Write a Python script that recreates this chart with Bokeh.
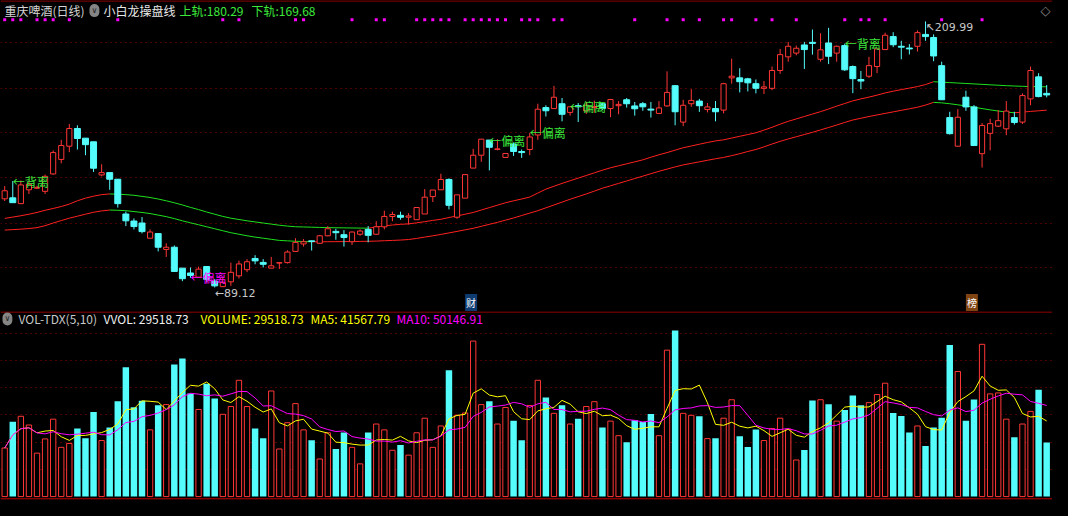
import numpy as np
import pandas as pd
from bokeh.plotting import figure
from bokeh.layouts import column
from bokeh.models import Range1d, Label, FixedTicker, Span, Grid, ColumnDataSource
from bokeh.embed import file_html
from bokeh.resources import INLINE

# ---------------- data ----------------
stock_name = "重庆啤酒(日线)"
indicator_name = "小白龙操盘线"
vol_indicator = "VOL-TDX(5,10)"

opens = [129.4, 129.85, 127.2, 133.5, 134.2, 132.8, 140.7, 147.3, 153.3, 161.35,
         156.95, 155.3, 140.25, 141.3, 138.3, 122.5, 119.3, 118.4, 111.5, 113.6,
         106.4, 107.4, 97.9, 95.7, 93.8, 98.65, 92.0, 89.5, 91.7, 94.4,
         97.2, 102.3, 100.5, 97.9, 100.2, 100.4, 105.5, 108.9, 110.3, 109.2,
         112.6, 114.6, 113.1, 109.9, 113.3, 115.5, 113.3, 116.65, 121.35, 121.9,
         121.05, 119.9, 122.5, 130.4, 133.5, 138.2, 121.05, 129.7, 143.35, 149.2,
         156.1, 151.85, 148.2, 154.3, 150.9, 151.8, 158.4, 170.85, 170.4, 172.6,
         168.65, 171.7, 169.4, 170.9, 172.6, 170.4, 171.7, 174.4, 171.6, 172.6,
         170.15, 168.2, 171.6, 180.8, 164.25, 172.6, 173.8, 169.95, 170.4, 169.7,
         184.35, 184.35, 183.9, 181.7, 179.6, 179.6, 187.7, 193.9, 195.6, 199.3,
         200.5, 192.8, 200.2, 195.6, 199.0, 189.5, 183.6, 185.1, 189.5, 197.2,
         203.1, 198.7, 197.9, 198.7, 204.1, 202.7, 189.9, 166.3, 153.3, 175.55,
         171.15, 149.9, 159.15, 162.4, 161.2, 166.3, 164.25, 174.8, 184.8, 177.3]

highs = [135.2, 137.45, 137.75, 137.45, 135.3, 140.4, 151.4, 156.2, 163.4, 162.8,
         156.95, 155.3, 145.1, 141.3, 138.3, 123.6, 120.5, 121.1, 115.5, 113.6,
         109.2, 108.2, 97.9, 98.2, 98.6, 98.65, 92.9, 93.5, 100.4, 101.3,
         102.0, 103.8, 102.0, 103.0, 100.5, 106.0, 111.5, 111.1, 110.4, 113.0,
         117.0, 115.8, 115.2, 114.5, 115.5, 117.0, 119.2, 124.0, 123.55, 123.55,
         122.9, 125.6, 133.8, 133.4, 140.8, 138.7, 131.2, 140.4, 152.1, 156.5,
         156.1, 156.5, 150.0, 155.0, 151.8, 159.4, 172.6, 171.9, 180.7, 175.2,
         171.2, 172.9, 173.4, 174.0, 173.0, 174.8, 173.8, 175.2, 173.4, 173.4,
         173.4, 173.8, 187.3, 181.0, 174.4, 179.2, 174.8, 172.9, 173.8, 182.1,
         193.1, 188.7, 184.35, 183.6, 182.9, 189.5, 197.5, 200.7, 199.0, 200.7,
         206.3, 204.6, 207.1, 199.0, 199.9, 190.0, 187.5, 193.9, 197.5, 204.9,
         205.1, 201.2, 199.7, 205.9, 209.99, 204.1, 191.7, 168.95, 170.15, 178.5,
         172.0, 163.8, 165.75, 169.7, 173.8, 168.95, 177.3, 189.5, 186.5, 181.1]

lows = [128.4, 127.6, 127.2, 131.6, 133.8, 131.6, 140.4, 145.5, 150.6, 151.8,
        149.2, 141.6, 139.6, 133.5, 125.4, 117.0, 115.5, 113.7, 111.5, 105.5,
        103.0, 96.4, 92.0, 93.5, 93.8, 91.5, 89.12, 89.4, 89.85, 93.2,
        96.1, 99.65, 98.2, 97.9, 97.5, 100.0, 105.5, 107.7, 105.9, 108.9,
        112.4, 110.8, 107.7, 108.4, 112.6, 109.6, 113.0, 115.5, 119.2, 119.9,
        117.7, 119.9, 122.5, 127.95, 133.5, 124.6, 120.3, 129.7, 143.35, 146.2,
        142.3, 151.4, 148.2, 148.9, 148.0, 149.2, 156.2, 166.8, 170.4, 164.6,
        167.2, 164.3, 167.9, 168.5, 169.8, 166.5, 167.8, 170.85, 167.2, 169.4,
        166.3, 167.9, 171.2, 162.8, 162.4, 171.2, 168.9, 168.65, 164.6, 168.2,
        181.7, 177.75, 178.2, 177.3, 177.0, 178.75, 186.2, 191.7, 194.6, 188.4,
        194.9, 191.7, 190.6, 191.7, 187.5, 177.4, 179.2, 184.35, 186.5, 197.2,
        198.3, 192.8, 195.0, 196.3, 201.2, 191.9, 174.4, 158.6, 153.3, 169.4,
        153.6, 143.6, 151.4, 162.0, 158.3, 163.1, 163.4, 171.9, 175.5, 175.5]

closes = [133.05, 127.65, 135.7, 136.0, 134.6, 139.6, 150.4, 153.6, 161.35, 156.8,
          154.0, 143.3, 141.3, 138.3, 127.2, 119.4, 116.8, 114.5, 114.3, 107.4,
          107.4, 96.4, 93.1, 94.55, 97.45, 92.8, 89.85, 91.3, 96.0, 99.8,
          100.8, 101.2, 99.65, 98.95, 100.4, 105.2, 109.6, 109.9, 110.0, 112.6,
          115.8, 114.0, 111.8, 114.3, 114.75, 112.8, 116.7, 121.4, 122.25, 121.0,
          121.6, 125.45, 130.15, 133.4, 138.2, 126.45, 131.2, 140.4, 149.2, 156.5,
          152.8, 152.1, 150.0, 150.9, 150.4, 157.5, 170.1, 169.4, 175.55, 167.8,
          171.2, 171.2, 171.9, 171.3, 170.4, 174.5, 172.3, 172.6, 170.3, 171.2,
          169.7, 170.7, 177.75, 168.95, 171.9, 174.1, 171.7, 171.15, 168.95, 181.7,
          185.1, 182.6, 182.1, 179.6, 180.25, 187.7, 194.9, 198.7, 197.8, 197.2,
          200.0, 197.1, 194.15, 198.7, 188.0, 184.0, 182.9, 189.9, 197.5, 203.7,
          199.4, 198.3, 197.5, 204.9, 203.1, 194.3, 174.4, 159.0, 166.45, 171.15,
          153.6, 162.7, 163.55, 164.9, 169.25, 164.1, 176.3, 187.7, 175.85, 176.6]

volumes = [26500, 40800, 43800, 39050, 23700, 31450, 42230, 26860, 28980, 37110,
           31800, 46120, 30570, 37640, 51950, 70500, 48770, 52300, 36400, 49830,
           50180, 72090, 75270, 56190, 47530, 61490, 53540, 44880, 49120, 63440,
           49120, 37110, 31810, 57600, 25970, 40290, 50710, 36400, 30750, 20500,
           34810, 25970, 34990, 26860, 17850, 34990, 39580, 36400, 25270, 28100,
           22620, 34810, 42760, 26860, 38520, 68910, 44350, 45590, 84820, 50180,
           51950, 39580, 48590, 41350, 30750, 49650, 63440, 54070, 45410, 49830,
           39580, 42410, 49120, 51770, 37640, 41170, 33220, 29690, 41700, 40640,
           45060, 33220, 79870, 90650, 45410, 44350, 43820, 31630, 31810, 42760,
           52830, 32870, 27040, 36580, 30570, 37110, 42760, 36750, 19970, 25440,
           52480, 52830, 50360, 41170, 47180, 55130, 49830, 51240, 55660, 61840,
           45590, 44000, 34990, 38520, 27570, 37640, 42940, 82700, 68210, 41350,
           53010, 83050, 56010, 56540, 42230, 32340, 39580, 46470, 58310, 29518.73]

upper_band = [120.5, 121.1, 121.7, 122.4, 123.2, 124.2, 125.0, 125.9, 127.0, 128.5,
              129.7, 130.6, 131.3, 131.6, 131.5, 131.3, 131.0, 130.5, 130.0, 129.3,
              128.5, 127.6, 126.6, 125.5, 124.5, 123.4, 122.4, 121.4, 120.6, 120.0,
              119.4, 118.9, 118.4, 117.9, 117.4, 117.0, 116.7, 116.6, 116.5, 116.4,
              116.3, 116.25, 116.2, 116.15, 116.1, 116.05, 116.6, 117.1, 117.5, 117.8,
              118.0, 118.5, 119.0, 119.6, 120.1, 120.9, 121.6, 122.4, 123.2, 124.3,
              125.4, 126.5, 127.6, 128.5, 129.3, 130.2, 132.0, 133.8, 135.1, 136.4,
              137.6, 138.8, 140.0, 141.2, 142.4, 143.5, 144.4, 145.3, 146.2, 147.1,
              148.3, 149.4, 150.4, 151.5, 152.6, 153.4, 154.2, 155.0, 155.7, 156.2,
              157.0, 157.8, 158.6, 159.4, 160.6, 161.9, 163.3, 164.6, 165.7, 166.8,
              167.9, 169.0, 170.2, 171.5, 172.7, 173.9, 174.8, 175.6, 176.5, 177.5,
              178.3, 179.0, 179.7, 180.4, 181.3, 182.6, 182.4, 182.2, 182.0, 181.8,
              181.6, 181.4, 181.2, 181.0, 180.8, 180.65, 180.5, 180.4, 180.35, 180.29]

lower_band = [115.2, 115.4, 115.6, 115.9, 116.3, 117.2, 118.4, 119.5, 120.6, 121.5,
              122.4, 123.3, 123.9, 124.3, 124.2, 124.0, 123.6, 123.2, 122.7, 122.0,
              121.3, 120.4, 119.4, 118.5, 117.6, 116.7, 115.8, 114.9, 114.0, 113.3,
              112.6, 112.0, 111.5, 111.0, 110.5, 110.3, 110.1, 110.0, 109.85, 109.87,
              109.9, 109.93, 109.96, 110.0, 110.05, 110.1, 110.2, 110.35, 110.5, 110.65,
              110.9, 111.4, 112.0, 112.6, 113.2, 113.9, 114.6, 115.3, 116.0, 116.9,
              117.8, 118.7, 119.7, 120.7, 121.8, 122.9, 124.0, 125.3, 126.6, 127.9,
              129.2, 130.4, 131.6, 132.9, 134.2, 135.3, 136.4, 137.5, 138.6, 139.7,
              140.8, 141.9, 142.9, 143.9, 144.8, 145.5, 146.2, 146.9, 147.6, 148.2,
              149.0, 149.9, 150.9, 151.8, 153.0, 154.3, 155.5, 156.6, 157.6, 158.6,
              159.6, 160.7, 161.8, 162.9, 164.1, 165.2, 166.0, 166.8, 167.5, 168.2,
              168.9, 169.6, 170.3, 171.0, 172.0, 173.2, 173.0, 172.6, 172.1, 171.6,
              171.0, 170.4, 169.8, 169.3, 168.8, 168.5, 168.8, 169.1, 169.4, 169.68]

signal_dots = [0, 1, 2, 4, 5, 6, 8, 14, 27, 29, 36, 37, 43, 46, 47, 51, 52, 53, 54, 55,
               57, 58, 59, 60, 61, 62, 64, 65, 66, 68, 69, 78, 82, 84, 86, 89, 90, 93,
               95, 98, 104, 106, 107, 109, 116, 121]

signal_idx = [1, 23, 60, 65, 70, 104]
signal_text = ["背离", "偏离", "偏离", "偏离", "偏离", "背离"]
signal_side = ["high", "low", "high", "high", "high", "high"]

event_idx = [57, 119]
event_text = ["财", "榜"]

upper_last = 180.29
lower_last = 169.68
vvol_last = 29518.73
ma5_last = 41567.79
ma10_last = 50146.91

price_grid = [98.2, 118.4, 139.1, 159.3, 179.5, 200.2]
volume_grid = [14840, 29680, 44520, 59360, 74200, 89040]

n = len(closes)
assert all(len(a) == n for a in (opens, highs, lows, volumes, upper_band, lower_band))

# ---------------- styling / layout ----------------
W = 1052
H_PRICE = 311
H_VOL = 189
FONT = "Noto Sans CJK SC"
RED = "#ff3636"
CYAN = "#54fcfc"
BAND_RED = "#ff2020"
BAND_GREEN = "#1ee01e"
TXT_GREEN = "#3ce83c"
MAGENTA = "#ff00ff"
YELLOW = "#ffff00"
GRID_RED = "#9a0000"
FRAME_RED = "#c00000"

PRICE_RANGE = (78.2, 219.5)
VOL_RANGE = (-2127, 100954)
HEADER_Y = 214.9
DOT_Y = 210.8
EVENT_Y = 82.3
VHEADER_Y = 96900

x = np.arange(n)
o = np.array(opens); h = np.array(highs); l = np.array(lows); c = np.array(closes)
v = np.array(volumes, dtype=float)
up = c >= o

ma5 = pd.Series(v).rolling(5, min_periods=1).mean().values
ma10 = pd.Series(v).rolling(10, min_periods=1).mean().values

xr = Range1d(-0.52, n - 0.28)


def make_fig(height, yr, grid_ticks):
    f = figure(width=W, height=height, x_range=xr, y_range=Range1d(*yr),
               output_backend="svg", toolbar_location=None,
               x_axis_location=None, y_axis_location=None,
               background_fill_color="black", border_fill_color="black",
               outline_line_color=None, min_border=0)
    f.xgrid.visible = False
    f.ygrid.visible = False
    f.add_layout(Grid(dimension=1, ticker=FixedTicker(ticks=grid_ticks),
                      grid_line_color=GRID_RED, grid_line_dash="1 4", grid_line_width=1))
    return f


def add_label(fig, xv, yv, text, color, size="12px", x_units="data",
              align="left", baseline="middle", font=FONT, **kw):
    fig.add_layout(Label(x=xv, y=yv, x_units=x_units, text=text, text_color=color,
                         text_font=font, text_font_size=size, text_align=align,
                         text_baseline=baseline, **kw))


# ---------------- price panel ----------------
p = make_fig(H_PRICE, PRICE_RANGE, price_grid)
p.add_layout(Span(location=219.3, dimension="width", line_color=FRAME_RED, line_width=1))

# bands, coloured by direction
for band in (upper_band, lower_band):
    b = np.array(band)
    seg_col = [BAND_GREEN if b[i] < b[i - 1] else BAND_RED for i in range(1, n)]
    p.segment(x0=x[:-1], y0=b[:-1], x1=x[1:], y1=b[1:], line_color=seg_col, line_width=1)

cols = [RED if u else CYAN for u in up]
p.segment(x0=x, y0=l, x1=x, y1=h, line_color=cols, line_width=1)

src_up = ColumnDataSource(dict(x=x[up], top=c[up], bot=o[up]))
src_dn = ColumnDataSource(dict(x=x[~up], top=o[~up], bot=c[~up]))
p.vbar(x="x", top="top", bottom="bot", width=0.74, source=src_dn,
       fill_color=CYAN, line_color=CYAN, line_width=1)
p.vbar(x="x", top="top", bottom="bot", width=0.64, source=src_up,
       fill_color="black", line_color=RED, line_width=1)

# signal dots along the top
p.scatter(x=signal_dots, y=[DOT_Y] * len(signal_dots), marker="square", size=3,
          fill_color=MAGENTA, line_color=None)

# divergence signals
for i, t, side in zip(signal_idx, signal_text, signal_side):
    if side == "high":
        add_label(p, i, h[i], "←" + t, TXT_GREEN, size="12px")
    else:
        add_label(p, i, l[i], "←" + t, MAGENTA, size="12px")

# extremes
imax = int(np.argmax(h)); imin = int(np.argmin(l))
add_label(p, imax, h[imax], "↖" + f"{h[imax]:.2f}", "#c8c8c8", size="11px",
          baseline="top", font="DejaVu Sans")
add_label(p, imin, l[imin], "←" + f"{l[imin]:.2f}", "#c8c8c8", size="11px",
          baseline="top", font="DejaVu Sans")

# event markers
for i, t, bg in zip(event_idx, event_text, ["#0d3b72", "#7f4412"]):
    add_label(p, i, EVENT_Y, t, "#ffffff", size="10px", background_fill_color=bg, padding=1)

# header
add_label(p, 4, HEADER_Y, stock_name, "#d4d4d4", x_units="screen")
add_label(p, 89, HEADER_Y, "∨", "#1c1c1c", x_units="screen", size="8px",
          font="DejaVu Sans", background_fill_color="#858585", border_radius=6, padding=2)
add_label(p, 103, HEADER_Y, indicator_name, "#e8e8e8", x_units="screen")
add_label(p, 179, HEADER_Y, f"上轨:{upper_last:.2f}", TXT_GREEN, x_units="screen")
add_label(p, 251, HEADER_Y, f"下轨:{lower_last:.2f}", TXT_GREEN, x_units="screen")
add_label(p, W - 2, HEADER_Y, "◇", "#8a8a8a", x_units="screen", size="13px",
          align="right", font="DejaVu Sans")

# ---------------- volume panel ----------------
pv = make_fig(H_VOL, VOL_RANGE, volume_grid)
pv.add_layout(Span(location=100680, dimension="width", line_color=FRAME_RED, line_width=1))
pv.add_layout(Span(location=-1200, dimension="width", line_color=FRAME_RED, line_width=1))

pv.vbar(x=x[~up], top=v[~up], bottom=0, width=0.8, fill_color=CYAN, line_color=None)
pv.vbar(x=x[up], top=v[up], bottom=0, width=0.66, fill_color="black",
        line_color=RED, line_width=1)
pv.line(x, ma5, line_color=YELLOW, line_width=1)
pv.line(x, ma10, line_color=MAGENTA, line_width=1)

add_label(pv, 2, VHEADER_Y, "∨", "#1c1c1c", x_units="screen", size="8px",
          font="DejaVu Sans", background_fill_color="#858585", border_radius=6, padding=2)
add_label(pv, 18, VHEADER_Y, vol_indicator, "#c8c8c8", x_units="screen")
add_label(pv, 103, VHEADER_Y, f"VVOL: {vvol_last:.2f}", "#f0f0f0", x_units="screen")
add_label(pv, 200, VHEADER_Y, f"VOLUME: {vvol_last:.2f}", YELLOW, x_units="screen")
add_label(pv, 310, VHEADER_Y, f"MA5: {ma5_last:.2f}", YELLOW, x_units="screen")
add_label(pv, 396, VHEADER_Y, f"MA10: {ma10_last:.2f}", MAGENTA, x_units="screen")

layout = column(p, pv, spacing=0)
html = file_html(layout, INLINE, title="重庆啤酒")
html = html.replace("</head>", "<style>html,body{background:#000000;}</style></head>", 1)
open("out.html", "w", encoding="utf-8").write(html)
